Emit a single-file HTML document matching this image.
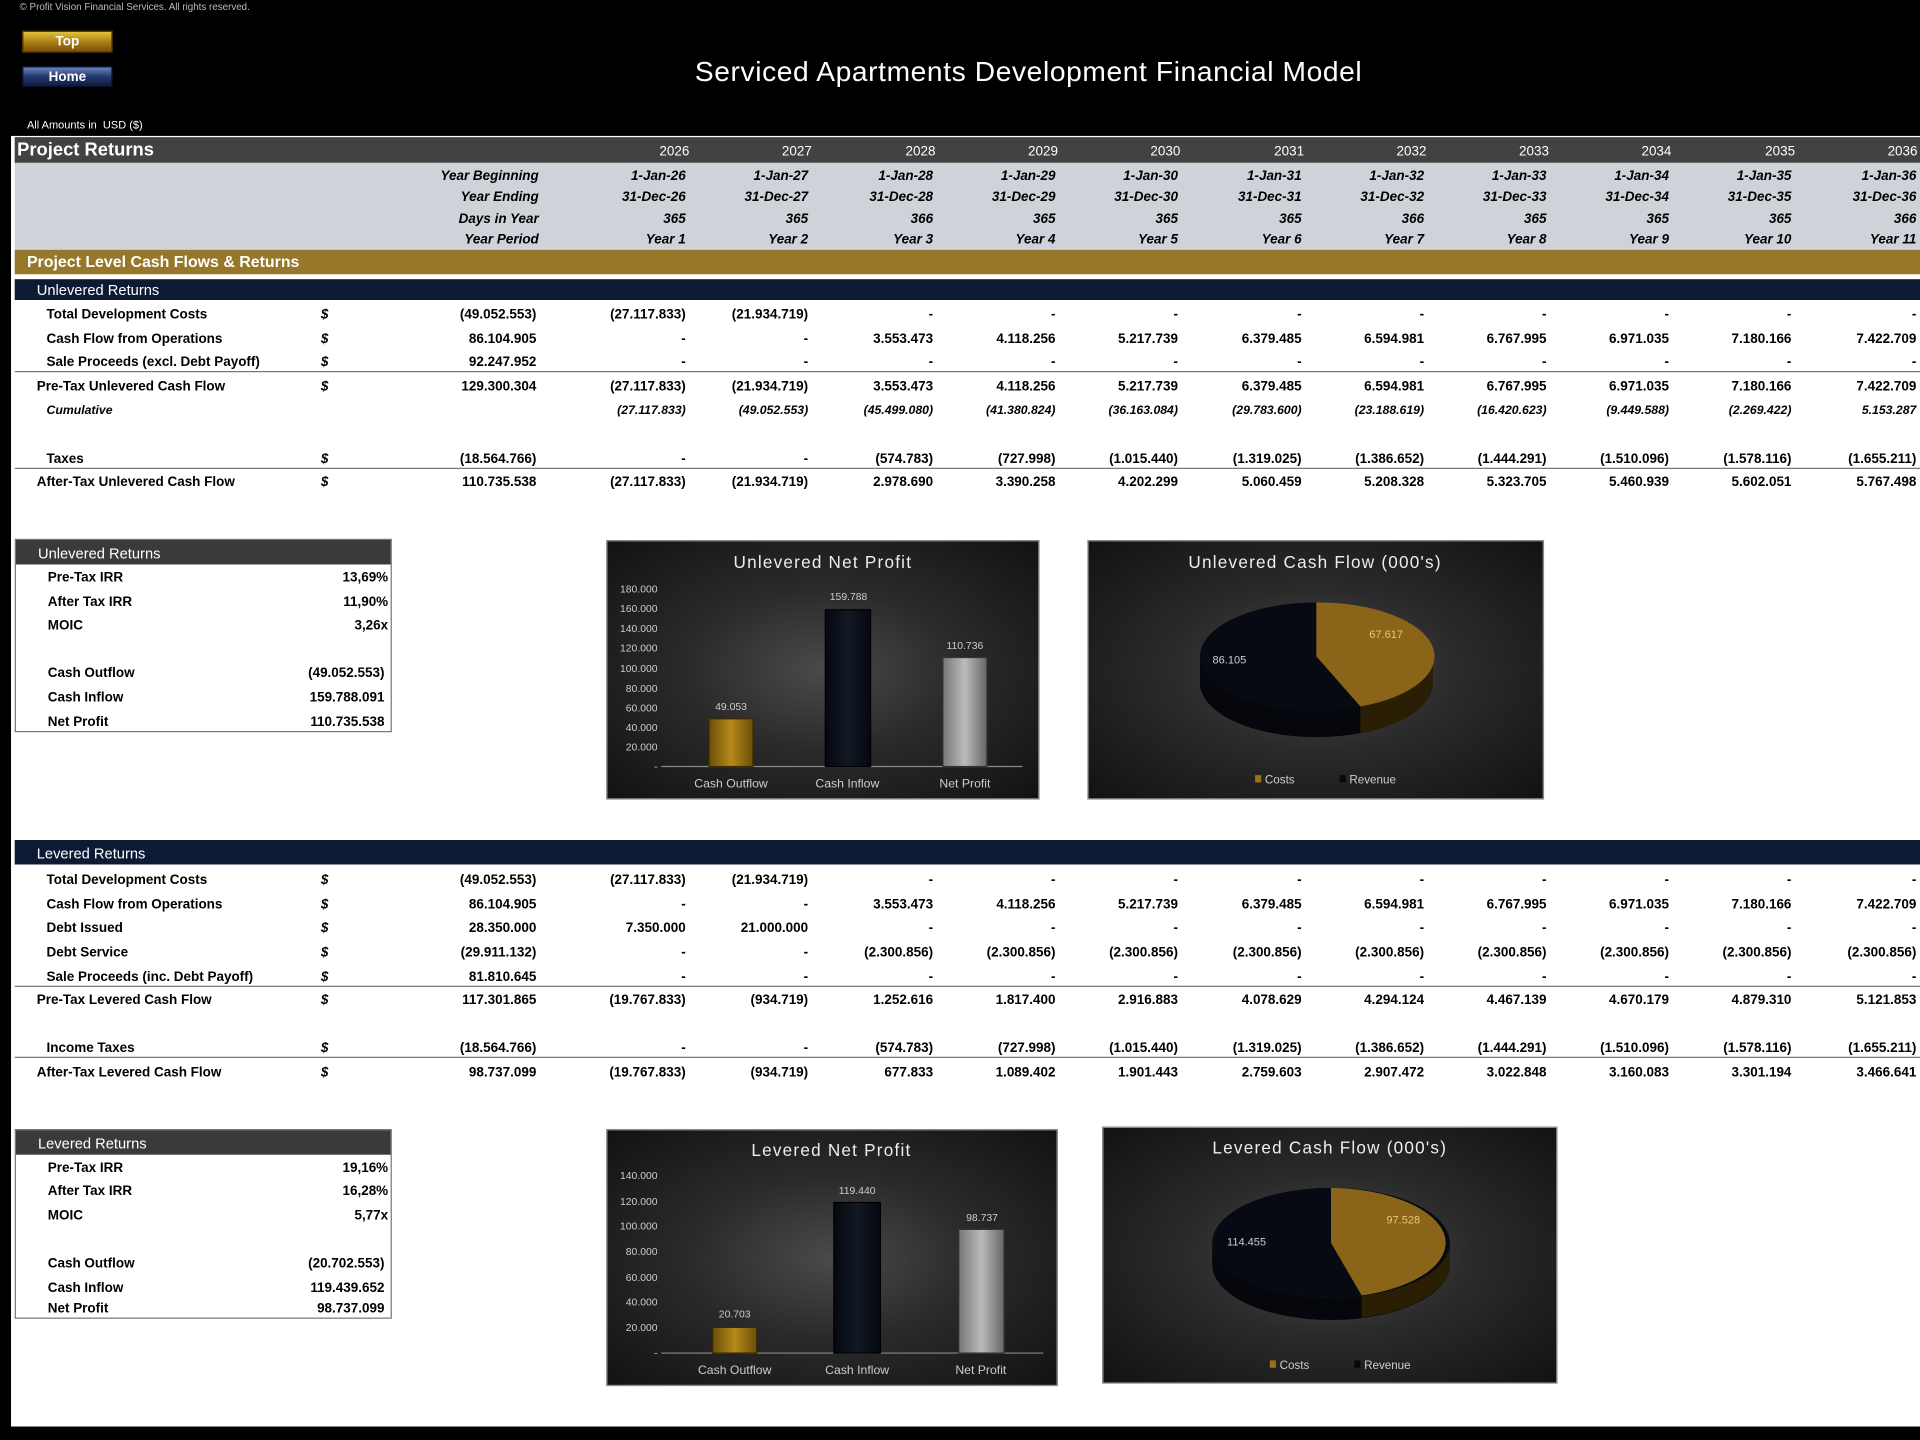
<!DOCTYPE html>
<html><head><meta charset="utf-8"><style>
*{margin:0;padding:0;box-sizing:border-box}
html,body{width:1920px;height:1440px;overflow:hidden;background:#000}
#w{position:absolute;left:0;top:0;width:1568px;height:1176px;transform:scale(1.22449);transform-origin:0 0;background:#000;font-family:"Liberation Sans Narrow","Liberation Sans",sans-serif;}
.abs{position:absolute}
#sheet{position:absolute;left:9px;top:111px;width:1559px;height:1054px;background:#fff}
.bar{position:absolute;left:12px;width:1556px}
.r{position:absolute;left:0;width:1568px;height:14px;font-size:11px;font-weight:bold;color:#000;line-height:14px}
.r span{position:absolute;top:0;width:110px;text-align:right;white-space:nowrap}
.r span.a{left:38px;text-align:left;width:260px}
.r span.d{left:262px;width:10px;text-align:left;font-style:italic}
.c0{left:328px}.c1{left:450px}.c2{left:550px}.c3{left:652px}.c4{left:752px}.c5{left:852px}.c6{left:953px}.c7{left:1053px}.c8{left:1153px}.c9{left:1253px}.c10{left:1353px}.c11{left:1455px}
.hl{position:absolute;left:12px;width:1556px;height:1px;background:#777}
.box{position:absolute;left:12px;width:308px;border:1px solid #777;background:#fff}
.box .h{height:20px;background:#3a3a3a;color:#fff;font-size:12px;line-height:22px;padding-left:18px}
.k{position:absolute;font-size:11px;font-weight:bold;left:26px}
.kv{position:absolute;font-size:11px;font-weight:bold;right:2px;text-align:right}
.ch{position:absolute;background:radial-gradient(ellipse at 50% 50%,#4a4a4a 0%,#2a2a2a 45%,#121212 100%);border:1px solid #888}
</style></head><body><div id="w">
<div id="sheet"></div>
<div class="abs" style="left:16px;top:1px;font-size:8px;color:#bbb">© Profit Vision Financial Services. All rights reserved.</div>
<div class="abs" style="left:18px;top:25px;width:74px;height:18px;background:linear-gradient(#e3c23a,#a37512 60%,#7a5208);border:1px solid #5a3b00;color:#fff;font-size:11px;font-weight:bold;text-align:center;line-height:17px">Top</div>
<div class="abs" style="left:18px;top:54px;width:74px;height:17px;background:linear-gradient(#6c86c0,#243a6e 50%,#0f1e40);border:1px solid #0a1530;color:#fff;font-size:11px;font-weight:bold;text-align:center;line-height:17px">Home</div>
<div class="abs" style="left:0;width:1680px;top:45px;text-align:center;font-size:23px;color:#fff;font-family:'Liberation Sans',sans-serif;letter-spacing:0.5px">Serviced Apartments Development Financial Model</div>
<div class="abs" style="left:22px;top:97px;font-size:9px;color:#fff">All Amounts in &nbsp;USD ($)</div>

<div class="bar" style="top:112px;height:21px;background:#424242"></div>
<div class="abs" style="left:14px;top:114px;font-size:15px;color:#fff;font-weight:bold">Project Returns</div>
<div class="r" style="top:117px;color:#fff;font-weight:normal"><span style="left:453px">2026</span><span style="left:553px">2027</span><span style="left:654px">2028</span><span style="left:754px">2029</span><span style="left:854px">2030</span><span style="left:955px">2031</span><span style="left:1055px">2032</span><span style="left:1155px">2033</span><span style="left:1255px">2034</span><span style="left:1356px">2035</span><span style="left:1456px">2036</span></div>
<div class="bar" style="top:133px;height:71px;background:#cfd2d8"></div>
<div class="r" style="top:137px;font-style:italic"><span style="left:330px">Year Beginning</span><span class="c1">1-Jan-26</span><span class="c2">1-Jan-27</span><span class="c3">1-Jan-28</span><span class="c4">1-Jan-29</span><span class="c5">1-Jan-30</span><span class="c6">1-Jan-31</span><span class="c7">1-Jan-32</span><span class="c8">1-Jan-33</span><span class="c9">1-Jan-34</span><span class="c10">1-Jan-35</span><span class="c11">1-Jan-36</span></div>
<div class="r" style="top:154px;font-style:italic"><span style="left:330px">Year Ending</span><span class="c1">31-Dec-26</span><span class="c2">31-Dec-27</span><span class="c3">31-Dec-28</span><span class="c4">31-Dec-29</span><span class="c5">31-Dec-30</span><span class="c6">31-Dec-31</span><span class="c7">31-Dec-32</span><span class="c8">31-Dec-33</span><span class="c9">31-Dec-34</span><span class="c10">31-Dec-35</span><span class="c11">31-Dec-36</span></div>
<div class="r" style="top:172px;font-style:italic"><span style="left:330px">Days in Year</span><span class="c1">365</span><span class="c2">365</span><span class="c3">366</span><span class="c4">365</span><span class="c5">365</span><span class="c6">365</span><span class="c7">366</span><span class="c8">365</span><span class="c9">365</span><span class="c10">365</span><span class="c11">366</span></div>
<div class="r" style="top:189px;font-style:italic"><span style="left:330px">Year Period</span><span class="c1">Year 1</span><span class="c2">Year 2</span><span class="c3">Year 3</span><span class="c4">Year 4</span><span class="c5">Year 5</span><span class="c6">Year 6</span><span class="c7">Year 7</span><span class="c8">Year 8</span><span class="c9">Year 9</span><span class="c10">Year 10</span><span class="c11">Year 11</span></div>
<div class="bar" style="top:204px;height:20px;background:#97782a"></div>
<div class="abs" style="left:22px;top:206px;font-size:13px;color:#fff;font-weight:bold">Project Level Cash Flows &amp; Returns</div>

<div class="bar" style="top:228px;height:17px;background:#0c1a33"></div>
<div class="abs" style="left:30px;top:230px;font-size:12px;color:#fff">Unlevered Returns</div>
<div class="r" style="top:250px"><span class="a">Total Development Costs</span><span class="d">$</span><span class="c0">(49.052.553)</span><span class="c1">(27.117.833)</span><span class="c2">(21.934.719)</span><span class="c3">-</span><span class="c4">-</span><span class="c5">-</span><span class="c6">-</span><span class="c7">-</span><span class="c8">-</span><span class="c9">-</span><span class="c10">-</span><span class="c11">-</span></div>
<div class="r" style="top:270px"><span class="a">Cash Flow from Operations</span><span class="d">$</span><span class="c0">86.104.905</span><span class="c1">-</span><span class="c2">-</span><span class="c3">3.553.473</span><span class="c4">4.118.256</span><span class="c5">5.217.739</span><span class="c6">6.379.485</span><span class="c7">6.594.981</span><span class="c8">6.767.995</span><span class="c9">6.971.035</span><span class="c10">7.180.166</span><span class="c11">7.422.709</span></div>
<div class="r" style="top:289px"><span class="a">Sale Proceeds (excl. Debt Payoff)</span><span class="d">$</span><span class="c0">92.247.952</span><span class="c1">-</span><span class="c2">-</span><span class="c3">-</span><span class="c4">-</span><span class="c5">-</span><span class="c6">-</span><span class="c7">-</span><span class="c8">-</span><span class="c9">-</span><span class="c10">-</span><span class="c11">-</span></div>
<div class="hl" style="top:303px"></div>
<div class="r" style="top:309px"><span class="a" style="left:30px">Pre-Tax Unlevered Cash Flow</span><span class="d">$</span><span class="c0">129.300.304</span><span class="c1">(27.117.833)</span><span class="c2">(21.934.719)</span><span class="c3">3.553.473</span><span class="c4">4.118.256</span><span class="c5">5.217.739</span><span class="c6">6.379.485</span><span class="c7">6.594.981</span><span class="c8">6.767.995</span><span class="c9">6.971.035</span><span class="c10">7.180.166</span><span class="c11">7.422.709</span></div>
<div class="r" style="top:329px;font-style:italic;font-size:10px"><span class="a">Cumulative</span><span class="c1">(27.117.833)</span><span class="c2">(49.052.553)</span><span class="c3">(45.499.080)</span><span class="c4">(41.380.824)</span><span class="c5">(36.163.084)</span><span class="c6">(29.783.600)</span><span class="c7">(23.188.619)</span><span class="c8">(16.420.623)</span><span class="c9">(9.449.588)</span><span class="c10">(2.269.422)</span><span class="c11">5.153.287</span></div>
<div class="r" style="top:368px"><span class="a">Taxes</span><span class="d">$</span><span class="c0">(18.564.766)</span><span class="c1">-</span><span class="c2">-</span><span class="c3">(574.783)</span><span class="c4">(727.998)</span><span class="c5">(1.015.440)</span><span class="c6">(1.319.025)</span><span class="c7">(1.386.652)</span><span class="c8">(1.444.291)</span><span class="c9">(1.510.096)</span><span class="c10">(1.578.116)</span><span class="c11">(1.655.211)</span></div>
<div class="hl" style="top:382px"></div>
<div class="r" style="top:387px"><span class="a" style="left:30px">After-Tax Unlevered Cash Flow</span><span class="d">$</span><span class="c0">110.735.538</span><span class="c1">(27.117.833)</span><span class="c2">(21.934.719)</span><span class="c3">2.978.690</span><span class="c4">3.390.258</span><span class="c5">4.202.299</span><span class="c6">5.060.459</span><span class="c7">5.208.328</span><span class="c8">5.323.705</span><span class="c9">5.460.939</span><span class="c10">5.602.051</span><span class="c11">5.767.498</span></div>

<div class="box" style="top:440px;height:158px"><div class="h">Unlevered Returns</div>
<div class="k" style="top:25px">Pre-Tax IRR</div><div class="kv" style="top:25px">13,69%</div>
<div class="k" style="top:45px">After Tax IRR</div><div class="kv" style="top:45px">11,90%</div>
<div class="k" style="top:64px">MOIC</div><div class="kv" style="top:64px">3,26x</div>
<div class="k" style="top:103px">Cash Outflow</div><div class="kv" style="top:103px;right:5px">(49.052.553)</div>
<div class="k" style="top:123px">Cash Inflow</div><div class="kv" style="top:123px;right:5px">159.788.091</div>
<div class="k" style="top:143px">Net Profit</div><div class="kv" style="top:143px;right:5px">110.735.538</div></div>

<div class="ch" style="left:495px;top:441px;width:354px;height:212px"></div>
<div class="ch" style="left:888px;top:441px;width:373px;height:212px"></div>
<div class="ch" style="left:495px;top:922px;width:369px;height:210px"></div>
<div class="ch" style="left:900px;top:920px;width:372px;height:210px"></div>

<div class="bar" style="top:686px;height:20px;background:#0c1a33"></div>
<div class="abs" style="left:30px;top:690px;font-size:12px;color:#fff">Levered Returns</div>
<div class="r" style="top:712px"><span class="a">Total Development Costs</span><span class="d">$</span><span class="c0">(49.052.553)</span><span class="c1">(27.117.833)</span><span class="c2">(21.934.719)</span><span class="c3">-</span><span class="c4">-</span><span class="c5">-</span><span class="c6">-</span><span class="c7">-</span><span class="c8">-</span><span class="c9">-</span><span class="c10">-</span><span class="c11">-</span></div>
<div class="r" style="top:732px"><span class="a">Cash Flow from Operations</span><span class="d">$</span><span class="c0">86.104.905</span><span class="c1">-</span><span class="c2">-</span><span class="c3">3.553.473</span><span class="c4">4.118.256</span><span class="c5">5.217.739</span><span class="c6">6.379.485</span><span class="c7">6.594.981</span><span class="c8">6.767.995</span><span class="c9">6.971.035</span><span class="c10">7.180.166</span><span class="c11">7.422.709</span></div>
<div class="r" style="top:751px"><span class="a">Debt Issued</span><span class="d">$</span><span class="c0">28.350.000</span><span class="c1">7.350.000</span><span class="c2">21.000.000</span><span class="c3">-</span><span class="c4">-</span><span class="c5">-</span><span class="c6">-</span><span class="c7">-</span><span class="c8">-</span><span class="c9">-</span><span class="c10">-</span><span class="c11">-</span></div>
<div class="r" style="top:771px"><span class="a">Debt Service</span><span class="d">$</span><span class="c0">(29.911.132)</span><span class="c1">-</span><span class="c2">-</span><span class="c3">(2.300.856)</span><span class="c4">(2.300.856)</span><span class="c5">(2.300.856)</span><span class="c6">(2.300.856)</span><span class="c7">(2.300.856)</span><span class="c8">(2.300.856)</span><span class="c9">(2.300.856)</span><span class="c10">(2.300.856)</span><span class="c11">(2.300.856)</span></div>
<div class="r" style="top:791px"><span class="a">Sale Proceeds (inc. Debt Payoff)</span><span class="d">$</span><span class="c0">81.810.645</span><span class="c1">-</span><span class="c2">-</span><span class="c3">-</span><span class="c4">-</span><span class="c5">-</span><span class="c6">-</span><span class="c7">-</span><span class="c8">-</span><span class="c9">-</span><span class="c10">-</span><span class="c11">-</span></div>
<div class="hl" style="top:805px"></div>
<div class="r" style="top:810px"><span class="a" style="left:30px">Pre-Tax Levered Cash Flow</span><span class="d">$</span><span class="c0">117.301.865</span><span class="c1">(19.767.833)</span><span class="c2">(934.719)</span><span class="c3">1.252.616</span><span class="c4">1.817.400</span><span class="c5">2.916.883</span><span class="c6">4.078.629</span><span class="c7">4.294.124</span><span class="c8">4.467.139</span><span class="c9">4.670.179</span><span class="c10">4.879.310</span><span class="c11">5.121.853</span></div>
<div class="r" style="top:849px"><span class="a">Income Taxes</span><span class="d">$</span><span class="c0">(18.564.766)</span><span class="c1">-</span><span class="c2">-</span><span class="c3">(574.783)</span><span class="c4">(727.998)</span><span class="c5">(1.015.440)</span><span class="c6">(1.319.025)</span><span class="c7">(1.386.652)</span><span class="c8">(1.444.291)</span><span class="c9">(1.510.096)</span><span class="c10">(1.578.116)</span><span class="c11">(1.655.211)</span></div>
<div class="hl" style="top:863px"></div>
<div class="r" style="top:869px"><span class="a" style="left:30px">After-Tax Levered Cash Flow</span><span class="d">$</span><span class="c0">98.737.099</span><span class="c1">(19.767.833)</span><span class="c2">(934.719)</span><span class="c3">677.833</span><span class="c4">1.089.402</span><span class="c5">1.901.443</span><span class="c6">2.759.603</span><span class="c7">2.907.472</span><span class="c8">3.022.848</span><span class="c9">3.160.083</span><span class="c10">3.301.194</span><span class="c11">3.466.641</span></div>

<div class="box" style="top:922px;height:155px"><div class="h">Levered Returns</div>
<div class="k" style="top:25px">Pre-Tax IRR</div><div class="kv" style="top:25px">19,16%</div>
<div class="k" style="top:44px">After Tax IRR</div><div class="kv" style="top:44px">16,28%</div>
<div class="k" style="top:64px">MOIC</div><div class="kv" style="top:64px">5,77x</div>
<div class="k" style="top:103px">Cash Outflow</div><div class="kv" style="top:103px;right:5px">(20.702.553)</div>
<div class="k" style="top:123px">Cash Inflow</div><div class="kv" style="top:123px;right:5px">119.439.652</div>
<div class="k" style="top:140px">Net Profit</div><div class="kv" style="top:140px;right:5px">98.737.099</div></div>

<svg class="abs" style="left:0;top:0" width="1568" height="1176" font-family="Liberation Sans Narrow, Liberation Sans, sans-serif">
<defs>
<linearGradient id="gg" x1="0" x2="1"><stop offset="0" stop-color="#6a4e0a"/><stop offset=".5" stop-color="#b58a1a"/><stop offset="1" stop-color="#6a4e0a"/></linearGradient>
<linearGradient id="sg" x1="0" x2="1"><stop offset="0" stop-color="#777"/><stop offset=".5" stop-color="#bbb"/><stop offset="1" stop-color="#666"/></linearGradient>
<linearGradient id="bg" x1="0" x2="1"><stop offset="0" stop-color="#05080e"/><stop offset=".5" stop-color="#111925"/><stop offset="1" stop-color="#05080e"/></linearGradient>
</defs>
<g fill="#eee" font-size="14" text-anchor="middle" letter-spacing="1"><text x="672" y="464">Unlevered Net Profit</text><text x="1074" y="464">Unlevered Cash Flow (000's)</text><text x="679" y="944">Levered Net Profit</text><text x="1086" y="942">Levered Cash Flow (000's)</text></g>
<g fill="#ccc" font-size="8.5" text-anchor="end">
<text x="537" y="484">180.000</text><text x="537" y="500">160.000</text><text x="537" y="516">140.000</text><text x="537" y="532">120.000</text><text x="537" y="549">100.000</text><text x="537" y="565">80.000</text><text x="537" y="581">60.000</text><text x="537" y="597">40.000</text><text x="537" y="613">20.000</text><text x="537" y="629">-</text>
<text x="537" y="963">140.000</text><text x="537" y="984">120.000</text><text x="537" y="1004">100.000</text><text x="537" y="1025">80.000</text><text x="537" y="1046">60.000</text><text x="537" y="1066">40.000</text><text x="537" y="1087">20.000</text><text x="537" y="1108">-</text>
</g>
<line x1="540" y1="626" x2="835" y2="626" stroke="#888"/>
<rect x="579" y="587" width="36" height="39" fill="url(#gg)" stroke="#3a2a00"/>
<rect x="674" y="498" width="37" height="128" fill="url(#bg)" stroke="#000"/>
<rect x="770" y="537" width="36" height="89" fill="url(#sg)" stroke="#333"/>
<g fill="#ccc" font-size="8.5" text-anchor="middle"><text x="597" y="580">49.053</text><text x="693" y="490">159.788</text><text x="788" y="530">110.736</text>
<text x="600" y="1076">20.703</text><text x="700" y="975">119.440</text><text x="802" y="997">98.737</text></g>
<g fill="#ccc" font-size="10" text-anchor="middle"><text x="597" y="643">Cash Outflow</text><text x="692" y="643">Cash Inflow</text><text x="788" y="643">Net Profit</text>
<text x="600" y="1122">Cash Outflow</text><text x="700" y="1122">Cash Inflow</text><text x="801" y="1122">Net Profit</text></g>
<line x1="540" y1="1105" x2="852" y2="1105" stroke="#888"/>
<rect x="582" y="1084" width="36" height="21" fill="url(#gg)" stroke="#3a2a00"/>
<rect x="681" y="982" width="38" height="123" fill="url(#bg)" stroke="#000"/>
<rect x="783" y="1004" width="37" height="101" fill="url(#sg)" stroke="#333"/>

<path d="M980,536 A95,44 0 0 0 1170,536 L1170,558 A95,44 0 0 1 980,558 Z" fill="#05070c"/>
<path d="M1170,536 L1170,558 A95,44 0 0 1 1111,599 L1111,577 A95,44 0 0 0 1170,536 Z" fill="#2a1e04"/>
<ellipse cx="1075" cy="536" rx="95" ry="44" fill="#070a12"/>
<path d="M1075,536 L1075,492 A95,44 0 0 1 1111,577 Z" fill="#8a6418"/>
<text x="1132" y="521" fill="#e8c870" font-size="9" text-anchor="middle">67.617</text>
<text x="1004" y="542" fill="#ccc" font-size="9" text-anchor="middle">86.105</text>
<rect x="1025" y="633" width="5" height="6" fill="#9a7018"/><text x="1033" y="640" fill="#ccc" font-size="9.5">Costs</text>
<rect x="1094" y="633" width="5" height="6" fill="#05080e"/><text x="1102" y="640" fill="#ccc" font-size="9.5">Revenue</text>

<path d="M990,1015 A97,45 0 0 0 1184,1015 L1184,1033 A97,45 0 0 1 990,1033 Z" fill="#05070c"/>
<path d="M1184,1015 L1184,1033 A97,45 0 0 1 1112,1076 L1112,1058 A97,45 0 0 0 1184,1015 Z" fill="#2a1e04"/>
<ellipse cx="1087" cy="1015" rx="97" ry="45" fill="#070a12"/>
<path d="M1087,1015 L1087,970 A97,45 0 0 1 1112,1058 Z" fill="#8a6418"/>
<text x="1146" y="999" fill="#e8c870" font-size="9" text-anchor="middle">97.528</text>
<text x="1018" y="1017" fill="#ccc" font-size="9" text-anchor="middle">114.455</text>
<rect x="1037" y="1111" width="5" height="6" fill="#9a7018"/><text x="1045" y="1118" fill="#ccc" font-size="9.5">Costs</text>
<rect x="1106" y="1111" width="5" height="6" fill="#05080e"/><text x="1114" y="1118" fill="#ccc" font-size="9.5">Revenue</text>
</svg>
</div></body></html>
